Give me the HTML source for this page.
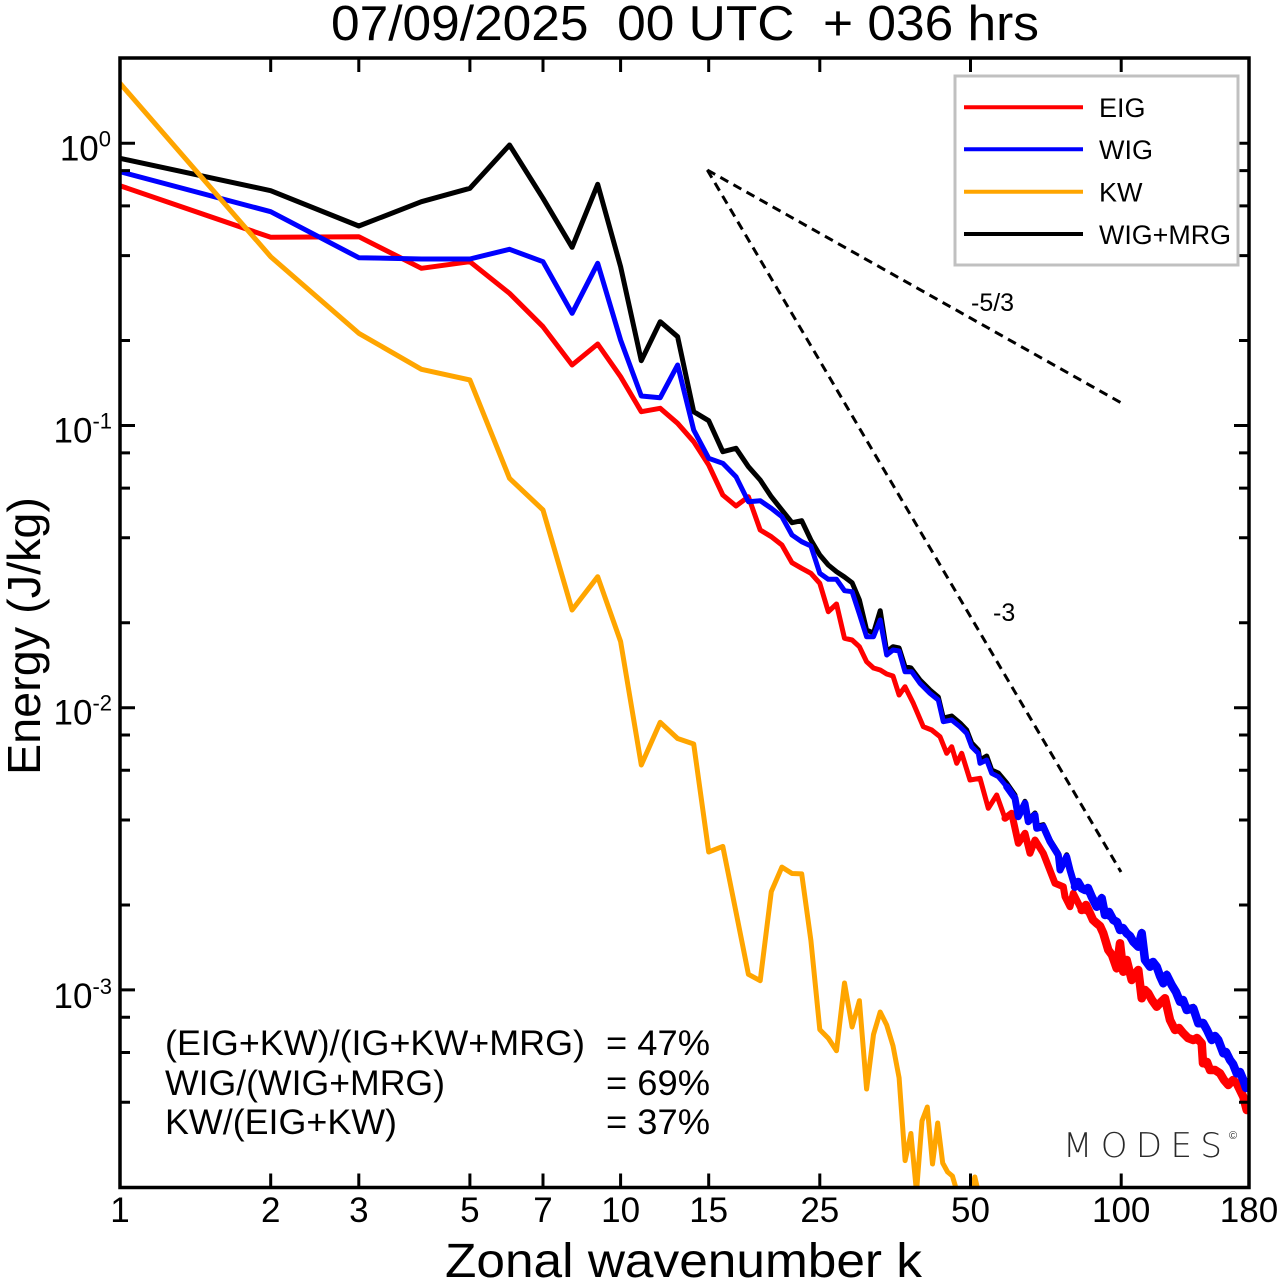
<!DOCTYPE html>
<html>
<head>
<meta charset="utf-8">
<style>
html,body{margin:0;padding:0;background:#fff;}
svg{display:block;}
</style>
</head>
<body>
<svg width="1280" height="1281" viewBox="0 0 1280 1281" xmlns="http://www.w3.org/2000/svg" font-family="'Liberation Sans', Arial, sans-serif">
<defs>
<clipPath id="plot"><rect x="120" y="58" width="1129" height="1129.5"/></clipPath>
</defs>
<rect x="0" y="0" width="1280" height="1281" fill="#fff"/>

<!-- Title -->
<text x="685" y="40" font-size="49" text-anchor="middle" textLength="708" lengthAdjust="spacingAndGlyphs" fill="#000" xml:space="preserve">07/09/2025  00 UTC  + 036 hrs</text>

<!-- dashed slope lines -->
<g stroke="#000" stroke-width="3" stroke-dasharray="9,6" fill="none">
<line x1="707.3" y1="170" x2="1125" y2="405"/>
<line x1="707.3" y1="170" x2="1121" y2="872"/>
</g>
<text x="971" y="311" font-size="25" fill="#000">-5/3</text>
<text x="993" y="621" font-size="25" fill="#000">-3</text>

<g clip-path="url(#plot)" fill="none" stroke-width="5" stroke-linejoin="round" stroke-linecap="round">
<!-- WIG+MRG black -->
<polyline stroke="#000" points="120,158.3 270.7,190.7 358.8,226 421.4,201.7 469.9,188.3 509.5,145 543,198.3 572.1,247.3 597.7,184.3 620.6,266.7 641.3,360.7 660.2,321.7 677.6,336.7 693.7,411.7 708.7,420.7 722.8,451.7 736,448.3 748.4,466.7 760.2,480 771.3,496.7 781.9,510 792,522.7 801.7,520.7 810.9,540 819.8,555 828.3,565 836.5,571.7 844.5,577 852.1,582.7 859.4,600 866.6,630 873.5,633 880.2,610.7 886.7,651.7 893,646.7 899.1,648 905,666.7 911,668 920,680 930,690 938.3,697 943.3,718 951.7,716 960,723 966.7,730 971.7,743 978.3,750 980,760 986.7,756 991.7,770 998.3,773 1006.7,783 1015,795 1018.3,814.7 1025,801.3 1028.3,819.7 1035,813 1036.7,826.3 1043.3,824.7 1050,839.7 1058.3,853 1060,868 1066.7,854.7 1070,868 1075,884.7 1081.7,886.3 1085,888 1091.7,894.7 1096.7,904.7 1101.7,896.3 1105,913 1113.3,918 1120,928 1126.7,931.3 1133.3,939.7 1138.3,944.7 1141.7,931.3 1145,958 1150,964.7 1156.7,964.7 1163.3,981.3 1166.7,973 1171.7,983 1180,999.7 1186.7,1008 1193.3,1006.3 1198.3,1021.3 1203.3,1021.3 1211.7,1038 1218.3,1038 1223.3,1051.3 1230,1058 1236.7,1071.3 1243.3,1078 1249,1083"/>
<!-- EIG red -->
<polyline stroke="#ff0000" points="120,185.7 270.7,237.3 358.8,236.7 421.4,268.3 469.9,261.7 509.5,293.3 543,326.7 572.1,365 597.7,344 620.6,376.7 641.3,411.7 660.2,408.3 677.6,423.3 693.7,441.7 708.7,465 722.8,495 736,506 748.4,496.7 760.2,530 771.3,536.7 781.9,545 792,562.7 801.7,568.3 810.9,573.3 819.8,583.3 828.3,611.7 836.5,604 844.5,638.3 852.1,640 859.4,646.7 866.6,661.7 873.5,668 880.2,670 886.7,674 893,676 899.1,695 905,686.7 913.3,703.3 923.3,726.7 931.7,730 940,736.7 946.7,753.3 951.7,746.7 956.7,763.3 961.7,753.3 970,780 980,778.3 988.3,808.3 996.7,795 1005,818.3 1011.7,813.3 1018.3,843.3 1025,833.3 1030,853.3 1035,840 1043.3,853.3 1055,883.3 1063.3,886.7 1065,896.7 1070,906.7 1073.3,893.3 1081.7,910 1090,913.3 1096.7,923.3 1103.3,933.3 1108.3,950 1116.7,968.3 1120,943.3 1123.3,971.7 1126.7,960 1131.7,980 1138.3,970 1141.7,998.3 1148.3,993.3 1156.7,1006.7 1165,998.3 1170,1020 1175,1030 1183.3,1033.3 1193.3,1040 1201.7,1043.3 1203,1063.3 1210,1070 1220,1073.3 1228.3,1085 1233,1080 1236.7,1083.3 1243.3,1096.7 1246.7,1110 1249,1102"/>
<!-- thick jagged band overlay red -->
<polyline stroke="#ff0000" stroke-width="7" points="1005,818.3 1011.7,813.3 1018.3,843.3 1025,833.3 1030,853.3 1035,840 1043.3,853.3 1055,883.3 1063.3,886.7 1065,896.7 1070,906.7 1073.3,893.3 1081.7,910"/>
<polyline stroke="#ff0000" stroke-width="8.5" points="1081.7,910 1086,905 1090,913.3 1093,920 1096.7,923.3 1100,926 1103.3,933.3 1108.3,950 1112,955 1116.7,968.3 1120,943.3 1123.3,971.7 1126.7,960 1131.7,980 1135,974 1138.3,970 1141.7,998.3 1145,990 1148.3,993.3 1152,1000 1156.7,1006.7 1161,1002 1165,998.3 1170,1020 1175,1030 1179,1028 1183.3,1033.3 1188,1038 1193.3,1040 1197,1038 1201.7,1043.3 1203,1063.3 1207,1062 1210,1070 1215,1070 1220,1073.3 1224,1080 1228.3,1085 1233,1080 1236.7,1083.3 1240,1090 1243.3,1096.7 1246.7,1110 1249,1102"/>
<!-- WIG blue -->
<polyline stroke="#0000ff" points="120,171.7 270.7,211.7 358.8,257.7 421.4,259 469.9,259 509.5,249.3 543,261.7 572.1,313.3 597.7,263.3 620.6,340 641.3,396 660.2,397.7 677.6,365 693.7,430 708.7,458.3 722.8,463.3 736,476.7 748.4,501.7 760.2,500.7 771.3,508.3 781.9,516.7 792,535 801.7,541.7 810.9,546 819.8,573.3 828.3,579.3 836.5,579.3 844.5,590.7 852.1,591.7 859.4,614 866.6,636.7 873.5,636.7 880.2,620 886.7,655 893,650 899.1,651 905,671.7 911.7,671.7 920,683.3 930,693.3 938.3,700 943.3,721.7 951.7,720 960,726.7 966.7,733.3 971.7,746.7 978.3,753.3 980,763.3 986.7,760 991.7,773.3 998.3,776.7 1006.7,786.7 1015,798.3 1018.3,816.7 1025,803.3 1028.3,821.7 1035,815 1036.7,828.3 1043.3,826.7 1050,841.7 1058.3,855 1060,870 1066.7,856.7 1070,870 1075,886.7 1081.7,888.3 1085,890 1091.7,896.7 1096.7,906.7 1101.7,898.3 1105,915 1113.3,920 1120,930 1126.7,933.3 1133.3,941.7 1138.3,946.7 1141.7,933.3 1145,960 1150,966.7 1156.7,966.7 1163.3,983.3 1166.7,975 1171.7,985 1180,1001.7 1186.7,1010 1193.3,1008.3 1198.3,1023.3 1203.3,1023.3 1211.7,1040 1218.3,1040 1223.3,1053.3 1230,1060 1236.7,1073.3 1243.3,1080 1249,1085"/>
<!-- thick jagged band overlay blue -->
<polyline stroke="#0000ff" stroke-width="7" points="1006.7,786.7 1015,798.3 1018.3,816.7 1025,803.3 1028.3,821.7 1035,815 1036.7,828.3 1043.3,826.7 1050,841.7 1058.3,855 1060,870 1066.7,856.7 1070,870 1075,886.7"/>
<polyline stroke="#0000ff" stroke-width="8.5" points="1075,886.7 1078,882 1081.7,888.3 1085,890 1088,888 1091.7,896.7 1096.7,906.7 1101.7,898.3 1105,915 1109,912 1113.3,920 1117,922 1120,930 1123,928 1126.7,933.3 1130,936 1133.3,941.7 1138.3,946.7 1141.7,933.3 1145,960 1150,966.7 1153,962 1156.7,966.7 1160,976 1163.3,983.3 1166.7,975 1171.7,985 1176,992 1180,1001.7 1183,1000 1186.7,1010 1193.3,1008.3 1198.3,1023.3 1203.3,1023.3 1207,1030 1211.7,1040 1215,1036 1218.3,1040 1223.3,1053.3 1226,1052 1230,1060 1233,1064 1236.7,1073.3 1240,1072 1243.3,1080 1246,1088 1249,1085"/>
<!-- KW orange -->
<polyline stroke="#ffa500" points="120,83.3 270.7,256.7 358.8,333.3 421.4,369.3 469.9,380 509.5,478.3 543,510 572.1,610 597.7,576.7 620.6,641.5 641.3,765 660.2,722.3 677.6,738.5 693.7,744 708.7,852 722.8,846.4 736,912 748.4,974.3 760.2,980.7 771.3,891.6 781.9,867.1 792,873.5 801.7,873.9 810.9,940.5 819.8,1029.6 828.3,1038.3 836.5,1050.7 844.5,983 852.1,1027 859.4,1000.7 866.6,1089 873.5,1034.5 880.2,1012 886.7,1025 893,1045.8 899.1,1077.8 905.1,1160.6 910.9,1133.5 916.5,1192 922,1121 927.3,1107 932.5,1164 937.7,1123 942.7,1163 947.6,1172 952.4,1176 957.1,1192 961.6,1210 966.1,1215 970.5,1200 974.8,1177 979,1195 983.2,1240"/>
</g>

<!-- axes frame -->
<rect x="120" y="58" width="1129" height="1129.5" fill="none" stroke="#000" stroke-width="3.5"/>

<!-- ticks -->
<g stroke="#000" stroke-width="3" fill="none">
<path d="M120 143.3h15 M120 425.5h15 M120 707.7h15 M120 989.9h15 M1249 143.3h-15 M1249 425.5h-15 M1249 707.7h-15 M1249 989.9h-15"/>
<path d="M120 340.55h10 M120 255.6h10 M120 205.9h10 M120 170.65h10 M120 622.75h10 M120 537.8h10 M120 488.1h10 M120 452.85h10 M120 904.95h10 M120 820h10 M120 770.3h10 M120 735.05h10 M120 1102.2h10 M120 1052.5h10 M120 1017.25h10"/>
<path d="M1249 340.55h-10 M1249 255.6h-10 M1249 205.9h-10 M1249 170.65h-10 M1249 622.75h-10 M1249 537.8h-10 M1249 488.1h-10 M1249 452.85h-10 M1249 904.95h-10 M1249 820h-10 M1249 770.3h-10 M1249 735.05h-10 M1249 1102.2h-10 M1249 1052.5h-10 M1249 1017.25h-10"/>
<path d="M270.7 1187.5v-14 M358.8 1187.5v-14 M469.9 1187.5v-14 M543 1187.5v-14 M620.6 1187.5v-14 M708.7 1187.5v-14 M819.8 1187.5v-14 M970.5 1187.5v-14 M1121.2 1187.5v-14"/>
<path d="M270.7 58v14 M358.8 58v14 M469.9 58v14 M543 58v14 M620.6 58v14 M708.7 58v14 M819.8 58v14 M970.5 58v14 M1121.2 58v14"/>
</g>

<!-- x tick labels -->
<g font-size="35" text-anchor="middle" fill="#000">
<text x="120" y="1222">1</text>
<text x="270.7" y="1222">2</text>
<text x="358.8" y="1222">3</text>
<text x="469.9" y="1222">5</text>
<text x="543" y="1222">7</text>
<text x="620.6" y="1222">10</text>
<text x="708.7" y="1222">15</text>
<text x="819.8" y="1222">25</text>
<text x="970.5" y="1222">50</text>
<text x="1121.2" y="1222">100</text>
<text x="1249" y="1222">180</text>
</g>

<!-- y tick labels -->
<g font-size="35" text-anchor="end" fill="#000">
<text x="111" y="160.3">10<tspan dy="-14" font-size="22">0</tspan></text>
<text x="112" y="442.5">10<tspan dy="-14" font-size="22">-1</tspan></text>
<text x="112" y="724.7">10<tspan dy="-14" font-size="22">-2</tspan></text>
<text x="112" y="1007.9">10<tspan dy="-14" font-size="22">-3</tspan></text>
</g>

<!-- axis labels -->
<text x="683.5" y="1277" font-size="48" text-anchor="middle" textLength="477" lengthAdjust="spacingAndGlyphs" fill="#000">Zonal wavenumber k</text>
<text transform="translate(40,636) rotate(-90)" x="0" y="0" font-size="46" text-anchor="middle" textLength="278" lengthAdjust="spacingAndGlyphs" fill="#000">Energy (J/kg)</text>

<!-- legend -->
<rect x="955" y="76" width="283" height="189" fill="#fff" stroke="#c0c0c0" stroke-width="3"/>
<g stroke-width="4">
<line x1="964" y1="107.3" x2="1083" y2="107.3" stroke="#ff0000"/>
<line x1="964" y1="149.3" x2="1083" y2="149.3" stroke="#0000ff"/>
<line x1="964" y1="191.7" x2="1083" y2="191.7" stroke="#ffa500"/>
<line x1="964" y1="234" x2="1083" y2="234" stroke="#000"/>
</g>
<g font-size="27" fill="#000">
<text x="1099" y="117">EIG</text>
<text x="1099" y="159">WIG</text>
<text x="1099" y="201.5">KW</text>
<text x="1099" y="244" textLength="132" lengthAdjust="spacingAndGlyphs">WIG+MRG</text>
</g>

<!-- annotations -->
<g font-size="35" fill="#000">
<text x="165" y="1055" textLength="420" lengthAdjust="spacingAndGlyphs">(EIG+KW)/(IG+KW+MRG)</text>
<text x="165" y="1095" textLength="280" lengthAdjust="spacingAndGlyphs">WIG/(WIG+MRG)</text>
<text x="165" y="1134" textLength="232" lengthAdjust="spacingAndGlyphs">KW/(EIG+KW)</text>
<text x="606" y="1055" textLength="104" lengthAdjust="spacingAndGlyphs">= 47%</text>
<text x="606" y="1095" textLength="104" lengthAdjust="spacingAndGlyphs">= 69%</text>
<text x="606" y="1134" textLength="104" lengthAdjust="spacingAndGlyphs">= 37%</text>
</g>

<!-- MODES logo -->
<text x="1063" y="1157" font-size="34" font-family="'DejaVu Sans', 'Liberation Sans', sans-serif" font-weight="200" fill="#2a2a2a" textLength="159" lengthAdjust="spacing">MODES</text>
<text x="1229" y="1139" font-size="11" fill="#2a2a2a">©</text>
</svg>
</body>
</html>
